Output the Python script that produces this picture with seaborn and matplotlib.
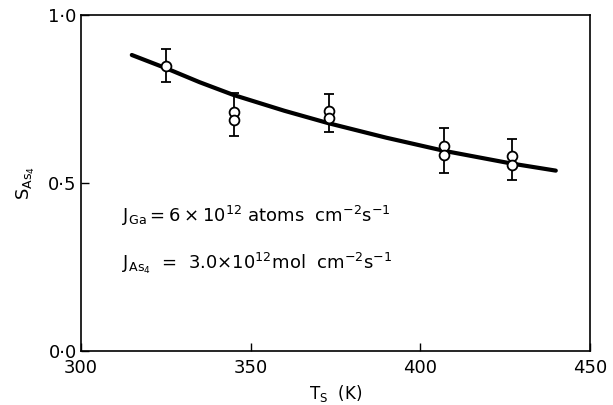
import matplotlib
matplotlib.use("Agg")
import matplotlib.pyplot as plt
import numpy as np
import pandas as pd
import seaborn as sns

# measured sticking coefficients (two runs at most temperatures)
t_points = [325, 345, 345, 373, 373, 407, 407, 427, 427]
s_points = [0.849, 0.712, 0.688, 0.715, 0.695, 0.610, 0.583, 0.581, 0.554]

# error bar ranges, one per temperature
t_err = [325, 345, 373, 407, 427]
s_err_lo = [0.800, 0.641, 0.651, 0.531, 0.509]
s_err_hi = [0.899, 0.767, 0.765, 0.665, 0.631]

# fitted curve
t_curve = [315, 325, 335, 345, 360, 373, 390, 407, 427, 440]
s_curve = [0.881, 0.842, 0.800, 0.762, 0.715, 0.678, 0.635, 0.596, 0.558, 0.537]

x_ticks = [300, 350, 400, 450]
y_ticks = [0.0, 0.5, 1.0]
y_tick_labels = ['0·0', '0·5', '1·0']

sns.set_style('ticks')
plt.rcParams['font.family'] = ['DejaVu Sans']
plt.rcParams['mathtext.default'] = 'regular'
plt.rcParams['text.color'] = 'black'
plt.rcParams['axes.labelcolor'] = 'black'
plt.rcParams['xtick.color'] = 'black'
plt.rcParams['ytick.color'] = 'black'

fig = plt.figure(figsize=(6.13, 4.05), dpi=100)
ax = fig.add_axes([0.132, 0.133, 0.830, 0.830])

curve = pd.DataFrame({'T': t_curve, 'S': s_curve})
sns.lineplot(data=curve, x='T', y='S', color='black', linewidth=3, ax=ax)

lo = np.array(s_err_lo)
hi = np.array(s_err_hi)
mid = (lo + hi) / 2
ax.errorbar(t_err, mid, yerr=[mid - lo, hi - mid], fmt='none',
            ecolor='black', elinewidth=1.3, capsize=3.5, capthick=1.3, zorder=3)

pts = pd.DataFrame({'T': t_points, 'S': s_points})
sns.scatterplot(data=pts, x='T', y='S', marker='o', s=50, facecolor='white',
                edgecolor='black', linewidth=1.3, zorder=4, ax=ax)

ax.set_xlim(300, 450)
ax.set_ylim(0, 1.0)
ax.set_xticks(x_ticks)
ax.set_yticks(y_ticks)
ax.set_yticklabels(y_tick_labels)
ax.tick_params(direction='in', length=6, width=1, labelsize=13)
ax.tick_params(axis='x', pad=6)
ax.tick_params(axis='y', pad=3)

for sp in ax.spines.values():
    sp.set_linewidth(1.2)
    sp.set_color('black')

ax.set_xlabel(r'$T_S$  (K)', fontsize=12, labelpad=4)
ax.set_ylabel(r'$S_{As_4}$', fontsize=13, labelpad=8)

ax.text(0.08, 0.385, r'$J_{Ga} = 6\times10^{12}$ atoms  cm$^{-2}$s$^{-1}$',
        transform=ax.transAxes, fontsize=13)
ax.text(0.08, 0.245, r'$J_{As_4}$  =  3.0$\times10^{12}$mol  cm$^{-2}$s$^{-1}$',
        transform=ax.transAxes, fontsize=13)

fig.savefig('out.png', dpi=100)
